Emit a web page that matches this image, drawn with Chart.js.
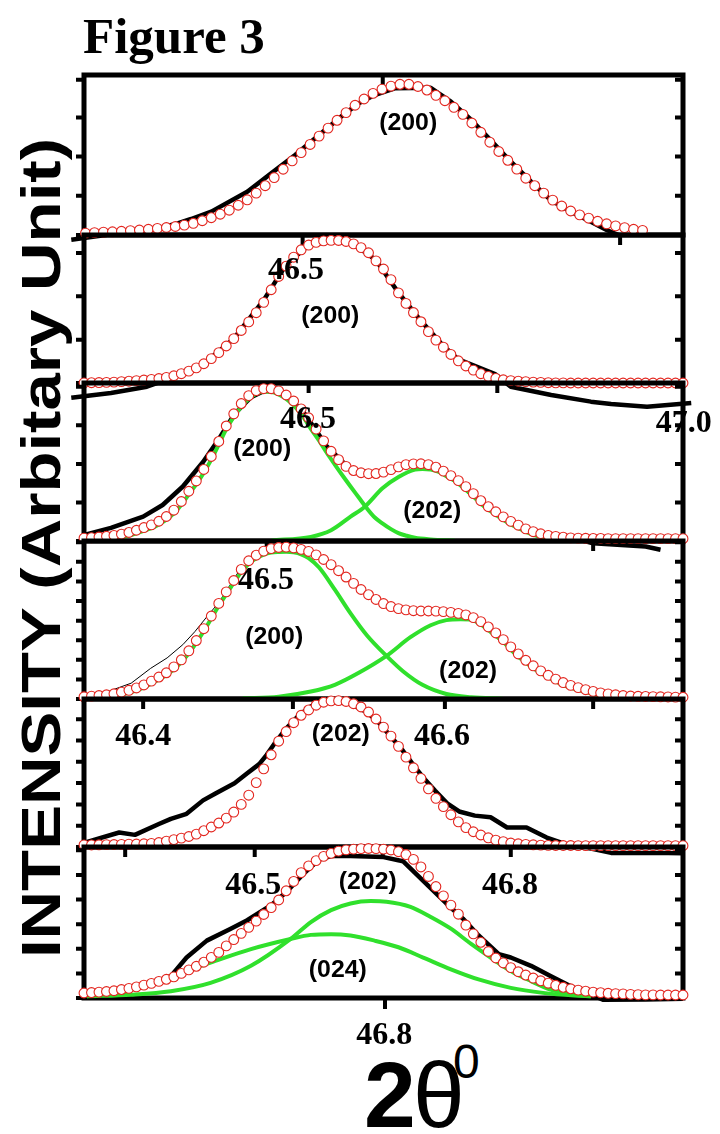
<!DOCTYPE html>
<html><head><meta charset="utf-8">
<script src="https://cdn.jsdelivr.net/npm/chart.js@4.4.0/dist/chart.umd.min.js"></script>
<style>
html,body{margin:0;padding:0;background:#fff;}
#wrap{position:relative;width:720px;height:1134px;overflow:hidden;background:#fff;}
#wrap canvas{position:absolute;left:0;top:0;}
.t{position:absolute;white-space:nowrap;line-height:1;color:#000;}
</style></head><body>
<div id="wrap">
<div class="t" style="left:83px;top:7px;font:bold 51px 'Liberation Serif';">Figure 3</div>
<div class="t" style="left:40px;top:548px;font:bold 56px 'Liberation Sans';transform:translate(-50%,-50%) rotate(-90deg) scaleX(1.2);">INTENSITY (Arbitary Unit)</div>
<div class="t" style="left:364px;top:1042px;font:bold 93px 'Liberation Sans';">2</div>
<div class="t" style="left:413px;top:1042px;font:93px 'Liberation Sans';">θ</div>
<div class="t" style="left:453px;top:1034px;font:48px 'Liberation Sans';">0</div>
</div>
<script>
// ---------- DATA (2θ in degrees, intensity in % of panel height) ----------
const theta1 = [46.190,46.202,46.214,46.226,46.238,46.250,46.262,46.274,46.286,46.298,46.310,46.322,46.334,46.346,46.358,46.370,46.382,46.394,46.406,46.418,46.430,46.442,46.454,46.466,46.478,46.490,46.502,46.514,46.526,46.538,46.550,46.562,46.574,46.586,46.598,46.610,46.622,46.634,46.646,46.658,46.670,46.682,46.694,46.706,46.718,46.730,46.742,46.754,46.766,46.778,46.790,46.802,46.814,46.826,46.838,46.850,46.862,46.874,46.886,46.898,46.910,46.922,46.934,46.946];
const theta = [46.20,46.21,46.22,46.23,46.24,46.25,46.26,46.27,46.28,46.29,46.30,46.31,46.32,46.33,46.34,46.35,46.36,46.37,46.38,46.39,46.40,46.41,46.42,46.43,46.44,46.45,46.46,46.47,46.48,46.49,46.50,46.51,46.52,46.53,46.54,46.55,46.56,46.57,46.58,46.59,46.60,46.61,46.62,46.63,46.64,46.65,46.66,46.67,46.68,46.69,46.70,46.71,46.72,46.73,46.74,46.75,46.76,46.77,46.78,46.79,46.80,46.81,46.82,46.83,46.84,46.85,46.86,46.87,46.88,46.89,46.90,46.91,46.92,46.93,46.94,46.95,46.96,46.97,46.98,46.99,47.00];

const fit1 = [1.0,1.2,1.5,1.8,2.0,2.3,2.7,3.1,3.6,4.1,4.7,5.3,6.2,7.3,8.9,10.8,13.0,15.5,18.6,22.0,26.2,30.8,35.9,41.1,46.3,51.5,56.6,61.8,66.8,71.7,76.5,81.1,85.0,88.5,91.2,93.0,94.2,94.2,92.8,90.6,87.3,83.9,79.8,75.4,70.0,64.2,58.0,52.2,46.7,41.2,35.5,30.8,26.2,21.8,18.1,15.0,12.6,10.5,8.6,7.0,5.7,4.6,3.6,2.9];
const fit2 = [0.1,0.2,0.3,0.4,0.6,0.9,1.2,1.6,2.0,2.4,3.0,3.8,4.9,6.3,8.0,10.2,13.0,16.5,20.5,25.0,30.0,35.5,41.3,47.5,54.5,63.0,72.0,79.0,85.0,90.0,93.2,95.0,96.0,96.4,96.3,95.6,94.0,91.5,88.0,82.5,77.0,69.8,60.9,53.8,47.6,41.4,34.7,29.0,24.2,19.3,15.0,11.5,8.7,6.3,4.5,3.1,2.2,1.6,1.2,0.9,0.6,0.4,0.2,0.1,0.1,0,0,0,0,0,0,0,0,0,0,0,0,0,0,0,0];
const fit3 = [1.8,2.1,2.5,3.0,3.5,4.3,5.4,6.8,8.5,10.2,12.5,15.5,19.5,25.0,31.5,38.0,45.3,53.5,63.0,72.8,80.5,87.0,92.0,95.2,96.4,96.4,95.0,92.4,88.6,83.6,78.0,70.8,63.4,56.8,51.5,47.2,44.6,43.2,42.6,42.7,43.6,45.2,46.9,48.3,48.8,48.9,48.3,46.7,44.2,41.4,38.2,34.4,30.0,25.5,21.7,18.5,15.3,12.4,10.0,7.7,5.9,4.6,3.5,2.9,2.4,2.0,1.8,1.7,1.6,1.6,1.5,1.5,1.5,1.5,1.5,1.5,1.5,1.5,1.5,1.5,1.5];
const fit4 = [1.4,1.8,2.2,2.7,3.3,4.3,5.5,7.0,8.9,11.3,13.9,16.6,20.3,24.8,30.5,37.0,44.5,52.5,60.5,67.8,75.0,82.0,87.5,91.0,93.6,95.2,95.9,96.1,95.6,94.7,93.4,91.2,88.3,85.0,81.2,77.2,73.2,69.3,66.0,63.0,60.4,58.5,57.2,56.4,55.9,55.7,55.7,55.6,55.3,54.8,54.2,53.2,51.5,49.0,45.6,41.8,37.6,33.0,28.5,24.5,21.0,17.8,15.0,12.6,10.4,8.6,7.2,5.9,4.8,3.9,3.2,2.7,2.2,1.9,1.7,1.6,1.5,1.4,1.3,1.2,1.1];
const fit5 = [1.4,1.4,1.5,1.6,1.7,1.8,1.9,2.0,2.2,2.4,3.0,4.0,5.0,6.0,7.1,8.7,11.0,13.5,16.2,19.5,23.6,28.8,35.0,43.5,52.8,62.3,71.5,78.0,84.0,89.0,92.6,95.8,97.8,98.7,98.9,98.3,96.8,94.6,91.2,86.5,81.0,74.9,68.0,60.7,53.5,46.4,39.3,32.9,27.3,21.8,17.0,13.1,10.3,8.1,6.2,4.6,3.6,2.7,2.2,1.8,1.5,1.3,1.1,1.0,1.0,1.0,0.9,0.9,0.9,0.9,0.9,0.9,0.9,0.9,0.9,0.9,0.9,0.9,0.9,0.9,0.9];
const fit6 = [3.3,3.6,3.9,4.3,4.8,5.6,6.4,7.4,8.5,9.7,11.0,12.4,14.0,16.3,18.6,21.0,23.7,26.9,30.2,34.5,38.7,42.8,46.8,50.9,55.3,59.9,64.9,71.0,77.2,83.0,87.5,91.0,93.8,95.8,97.3,98.1,98.6,98.9,99.0,98.9,98.6,98.0,96.9,95.0,91.8,86.8,80.5,73.8,67.6,61.5,55.5,48.3,42.5,36.9,30.8,26.5,23.2,20.1,17.4,15.2,13.2,11.4,9.8,8.4,7.1,6.1,5.2,4.5,3.9,3.5,3.1,2.9,2.7,2.4,2.2,2.1,2.1,2.0,2.0,2.0,2.0];

const exp1X = [46.183,46.236,46.289,46.321,46.343,46.37,46.418,46.45,46.482,46.514,46.546,46.567,46.588,46.615,46.663,46.69,46.717,46.743,46.77,46.797,46.823,46.85,46.877,46.898,46.914];
const exp1Y = [-3,0.4,3.1,6.7,10,14.6,27,38.5,50,62.5,75,82.3,87.5,91.7,92,83.3,72,59.4,45.8,33.3,21.9,14.6,8.3,3.1,0];
const exp2X = [46.183,46.236,46.284,46.32,46.36,46.40,46.44,46.47,46.50,46.53,46.56,46.59,46.62,46.65,46.68,46.70,46.72,46.749,46.77,46.824,46.877,46.904,46.952,47.011];
const exp2Y = [-10,-6.8,-2.5,4,13,30,56,80,93,96,94,83,61,42,25,16,12,6,-2.5,-8.1,-12.6,-14.2,-16,-13.5];
const exp3X = [46.198,46.236,46.279,46.305,46.332,46.359,46.38,46.401,46.423,46.444,46.465,46.492,46.524,46.556,46.588,46.631,46.663,46.695,46.727,46.759,46.791,46.823,46.86,46.88,46.95,46.97];
const exp3Y = [3.6,8.3,15.4,22.8,34.5,50,64.4,80.4,91,95.7,94.2,82.5,60.1,45.2,43,48.4,47.3,38.8,26,14.3,6.2,3.2,1,-1.5,-3.5,-5.5];
const exp4X = [46.204,46.236,46.263,46.289,46.311,46.332,46.348,46.364,46.38,46.407,46.439,46.471,46.503,46.535,46.567,46.599,46.631,46.663,46.695,46.727,46.759,46.791,46.823,46.855,46.893,46.957,46.994];
const exp4Y = [2,5.4,10,19.4,26,34.4,42.6,52,61,81,93.5,96,93,83,70,60.6,56.3,55.7,54.6,50,38,24,14.4,7.9,3.7,1.5,1.1];
const exp5X = [46.201,46.247,46.268,46.3,46.316,46.337,46.359,46.375,46.401,46.418,46.434,46.444,46.455,46.471,46.487,46.503,46.519,46.535,46.556,46.578,46.594,46.61,46.626,46.642,46.653,46.669,46.685,46.701,46.722,46.743,46.765,46.791,46.818,46.85,46.877,46.904,46.98,47.0];
const exp5Y = [3,9.8,8.2,15.5,19,22.4,31.5,36,43,49.8,56,62.3,70.3,80.6,89,95,97.7,98.2,96.6,91,84,74.5,65,54,47,38,29.5,24,21.2,20.1,13.2,13.2,6.4,0.7,-1,-4,-4,-4.2];
const exp6X = [46.204,46.263,46.316,46.337,46.364,46.396,46.418,46.45,46.471,46.492,46.514,46.53,46.556,46.6,46.626,46.663,46.684,46.706,46.727,46.754,46.77,46.797,46.823,46.85,46.877,46.893,46.95,47.0];
const exp6Y = [2.9,5.6,14.5,26.8,38,45.9,51.5,61.5,70.5,81.7,91.7,94,94,93.3,90.6,72.7,62.6,52.6,41.4,29,26.8,21.3,14.5,7.8,2.2,-1.1,-1,-0.5];

const c3aX = [46.20,46.21,46.22,46.23,46.24,46.25,46.26,46.27,46.28,46.29,46.30,46.31,46.32,46.33,46.34,46.35,46.36,46.37,46.38,46.39,46.40,46.41,46.42,46.43,46.44,46.45,46.46,46.47,46.48,46.492,46.503,46.514,46.524,46.535,46.546,46.556,46.567,46.578,46.588,46.599,46.61,46.62,46.631,46.642,46.663,46.695];
const c3aY = [0,0.2,0.5,1.0,1.5,2.3,3.4,4.8,6.5,8.2,10.5,13.5,17.5,23,29.5,36,43.3,51.5,61,70.8,78.5,85,90,93.2,94.4,94.3,92.8,90,85.8,79,71,63.5,56,48.4,41,34.5,27.5,20.5,15,11,7.5,5,3.3,2,1,0.3];
const c3bX = [46.45,46.503,46.53,46.556,46.575,46.599,46.62,46.642,46.652,46.663,46.674,46.684,46.695,46.706,46.717,46.727,46.738,46.749,46.759,46.77,46.781,46.791,46.802,46.823,46.855];
const c3bY = [0.4,2.6,6.8,15.4,21.7,33.5,40.5,45.2,45.6,45.3,43.8,41,38,34,29.4,25,20.5,17,13.7,10.5,8,5.6,3.6,1.3,0.2];
const c4aX = [46.20,46.21,46.22,46.23,46.24,46.25,46.26,46.27,46.28,46.29,46.30,46.31,46.32,46.33,46.34,46.35,46.36,46.37,46.38,46.39,46.40,46.41,46.42,46.43,46.44,46.45,46.46,46.47,46.48,46.49,46.50,46.514,46.535,46.556,46.578,46.604,46.626,46.652,46.684,46.717,46.759];
const c4aY = [0,0.3,0.7,1.2,1.8,2.8,4,5.5,7.4,9.8,12.4,15.1,18.8,23.3,29,35.5,43,51,59,66.3,73.5,80.3,85.6,89,91.4,92.7,93.1,93.2,92.8,91.6,89.2,83.2,69.2,54.2,40.2,27.3,17.6,9,3.2,1.1,0.2];
const c4bX = [46.412,46.46,46.503,46.535,46.567,46.604,46.636,46.663,46.684,46.703,46.717,46.727,46.743,46.759,46.775,46.791,46.807,46.823,46.839,46.855,46.871,46.893,46.919,46.957];
const c4bY = [0.4,1.5,4.7,9,16.6,27.3,39.1,46.7,49.9,50.5,50.3,48,42.5,36.5,29,22.6,17.2,13,9,6.4,4.3,2.2,0.7,0];
const c6aX = [46.204,46.263,46.316,46.369,46.423,46.476,46.503,46.53,46.556,46.583,46.604,46.636,46.663,46.69,46.717,46.743,46.77,46.797,46.823,46.855,46.877];
const c6aY = [1.1,2.2,4.5,10,21.3,39.1,50.3,58.2,62.6,64.2,63.8,60.4,53.7,45.9,35.8,26.8,17.9,11.2,5.6,2.2,1.1];
const c6bX = [46.204,46.263,46.316,46.369,46.423,46.476,46.503,46.53,46.556,46.588,46.62,46.653,46.69,46.727,46.77,46.813,46.855,46.877];
const c6bY = [1.1,5.6,14.5,23.5,32.4,39.1,41.8,42.3,41.4,38,33.6,26.8,19,12.3,6.7,3.4,1.6,1.1];

// tick positions (2θ) on each panel's top border, and intensity ticks
const topTicks = [[46.599],[46.492,46.916],[46.50,46.752],[46.444,46.88],[46.279,46.479,46.682,46.88],[46.255,46.428,46.599,46.77]];
const bottomTicks = [[],[],[],[],[],[46.602]];
const yTicks = [[0,24.5,49,73.5,97],[0,29.3,58.6,87.9],[0,24.4,48.8,73.2,97.6],[0,12.4,24.8,37.2,49.6,62,74.4,86.8,99.2],[0,14.4,28.8,43.2,57.6,72,86.4],[0,16.3,32.6,48.9,65.2,81.5,97.8]];

// text labels: [text, 2θ, intensity, kind]
const labels = [
  [['(200)',46.633,69.4,'hkl']],
  [['46.5',46.483,77.7,'num'],['(200)',46.529,44.6,'hkl']],
  [['46.5',46.499,78.5,'num'],['47.0',47.001,75.9,'num'],['(200)',46.438,57.6,'hkl'],['(202)',46.665,18.4,'hkl']],
  [['46.5',46.443,76.6,'num'],['(200)',46.454,38.3,'hkl'],['(202)',46.713,17.1,'hkl']],
  [['46.4',46.279,76.4,'num'],['46.6',46.678,76.4,'num'],['(202)',46.543,75.7,'hkl']],
  [['46.5',46.426,76.2,'num'],['46.8',46.769,76.2,'num'],['(202)',46.579,76.2,'hkl'],['(024)',46.539,17.9,'hkl'],['46.8',46.601,-23.2,'num']]
];

// ---------- LAYOUT ----------
const panelTop = [75,235,383,541,699,847];
const panelBottom = [235,383,541,699,847,998];
const frameLeft = 84, frameRight = 683, W = 720, H = 1134;

const RED = '#e3261f', GREEN = '#30e02c';
const pts = (xs, ys) => xs.map((v, k) => ({x: v, y: ys[k]}));

const panels = [
  {fit: pts(theta1, fit1), exp: pts(exp1X, exp1Y), expW: 4.5, comps: []},
  {fit: pts(theta, fit2), exp: pts(exp2X, exp2Y), expW: 4.5, comps: []},
  {fit: pts(theta, fit3), exp: pts(exp3X, exp3Y), expW: 4.5, comps: [pts(c3aX, c3aY), pts(c3bX, c3bY)]},
  {fit: pts(theta, fit4), exp: pts(exp4X, exp4Y), expW: 1, comps: [pts(c4aX, c4aY), pts(c4bX, c4bY)]},
  {fit: pts(theta, fit5), exp: pts(exp5X, exp5Y), expW: 4.5, comps: []},
  {fit: pts(theta, fit6), exp: pts(exp6X, exp6Y), expW: 4.5, comps: [pts(c6aX, c6aY), pts(c6bX, c6bY)]}
];

function decor(i) {
  return {
    id: 'decor' + i,
    beforeDatasetsDraw(chart) {
      const {ctx, chartArea: a, scales: {x, y}} = chart;
      ctx.save();
      ctx.strokeStyle = '#000';
      ctx.lineWidth = 5;
      ctx.strokeRect(a.left, a.top, a.right - a.left, a.bottom - a.top);
      ctx.lineWidth = 4;
      ctx.beginPath();
      topTicks[i].forEach(v => { const px = x.getPixelForValue(v); ctx.moveTo(px, a.top); ctx.lineTo(px, a.top + 10); });
      bottomTicks[i].forEach(v => { const px = x.getPixelForValue(v); ctx.moveTo(px, a.bottom); ctx.lineTo(px, a.bottom + 11); });
      yTicks[i].forEach(v => {
        const py = y.getPixelForValue(v);
        ctx.moveTo(a.left, py); ctx.lineTo(a.left - 8, py);
        ctx.moveTo(a.right, py); ctx.lineTo(a.right - 8, py);
      });
      ctx.stroke();
      ctx.restore();
    },
    afterDatasetsDraw(chart) {
      const {ctx, scales: {x, y}} = chart;
      ctx.save();
      ctx.fillStyle = '#000';
      ctx.textAlign = 'center';
      ctx.textBaseline = 'alphabetic';
      labels[i].forEach(([txt, vx, vy, kind]) => {
        const px = x.getPixelForValue(vx), py = y.getPixelForValue(vy);
        ctx.save();
        ctx.translate(px, py);
        if (kind === 'num') {
          ctx.font = "bold 32px 'Liberation Serif'";
          ctx.fillText(txt, 0, 11);
        } else {
          ctx.font = "bold 23px 'Liberation Sans'";
          ctx.scale(1.08, 1);
          ctx.fillText(txt, 0, 6);
        }
        ctx.restore();
      });
      ctx.restore();
    }
  };
}

const wrap = document.getElementById('wrap');
panels.forEach((p, i) => {
  const cv = document.createElement('canvas');
  cv.width = W; cv.height = H;
  wrap.appendChild(cv);
  const datasets = [
    {data: p.fit, showLine: false, pointRadius: 4.9, pointBorderWidth: 1.1, pointBorderColor: RED,
     pointBackgroundColor: '#fff', borderColor: RED, clip: false, order: 0}
  ];
  p.comps.forEach(c => datasets.push({data: c, borderColor: GREEN, borderWidth: 4, pointRadius: 0,
     cubicInterpolationMode: 'monotone', clip: false, order: 1}));
  datasets.push({data: p.exp, borderColor: '#000', borderWidth: p.expW, pointRadius: 0, tension: 0,
     borderJoinStyle: 'round', clip: false, order: 2});
  new Chart(cv, {
    type: 'line',
    data: {datasets},
    options: {
      responsive: false, animation: false, events: [],
      layout: {padding: {left: frameLeft, right: W - frameRight, top: panelTop[i], bottom: H - panelBottom[i]}},
      scales: {
        x: {type: 'linear', min: 46.2, max: 47.0, display: false},
        y: {type: 'linear', min: 0, max: 100, display: false}
      },
      plugins: {legend: {display: false}, tooltip: {enabled: false}}
    },
    plugins: [decor(i)]
  });
});
</script>
</body></html>
